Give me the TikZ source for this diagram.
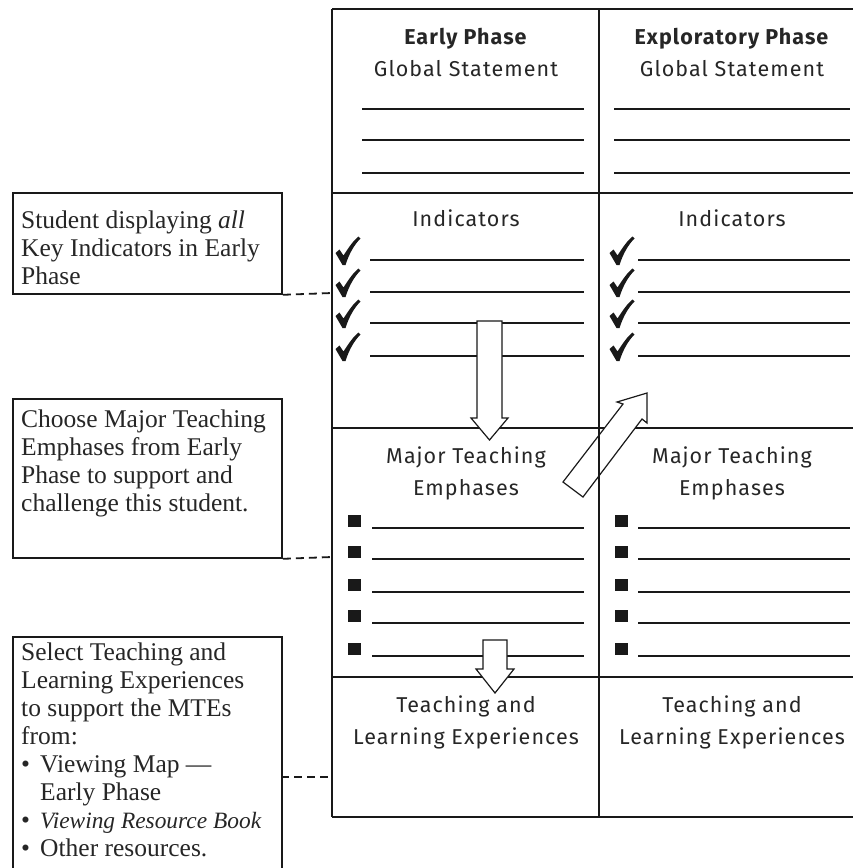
\documentclass[tikz,border=0pt]{standalone}
\usepackage{fontspec}
\setmainfont{Liberation Serif}
\newfontfamily\gridfont[LetterSpace=5]{Fira Sans}
\begin{document}
\begin{tikzpicture}[x=1pt,y=-1pt,
  rule/.style={line width=2pt, draw=black!90},
  blank/.style={line width=1.8pt, draw=black!90},
  frame/.style={draw=black!90, line width=1.8pt, inner sep=0pt, anchor=north west, minimum width=269pt},
  note/.style={font=\fontsize{25.5}{28}\selectfont, align=left, inner sep=0pt, anchor=north west, text=black!85},
  head/.style={font=\gridfont\fontsize{21.5}{32}\selectfont, align=center, inner sep=0pt, text=black!85},
  sq/.style={fill=black!90, minimum width=13pt, minimum height=12pt, inner sep=0pt},
  link/.style={line width=1.8pt, draw=black!90, dash pattern=on 8pt off 5pt},
  blockarrow/.style={draw=black!90, fill=white, line width=1.2pt, line join=miter},
  tickmark/.pic={
    \fill[black!90, line join=round]
      (-12.5,2) -- (-8.5,-1.5) -- (-4.5,4.5)
      .. controls (1,-4) and (5,-10) .. (10.5,-14.5)
      -- (12.5,-12.5)
      .. controls (6,-6) and (1,3) .. (-2.5,14)
      -- (-5.5,14) -- cycle;
  }
]
\path[use as bounding box] (0,0) rectangle (853,868);
\clip (0,0) rectangle (853,868);

% ---- grid of phases ----
\draw[rule] (332,9) -- (866,9);
\draw[rule] (332,193) -- (866,193);
\draw[rule] (332,428) -- (866,428);
\draw[rule] (332,677) -- (866,677);
\draw[rule] (332,817) -- (866,817);
\draw[rule] (332,9) -- (332,817);

% column headings
\node[head, anchor=north] (eh) at (466,28) {\textbf{Early Phase}\\Global Statement};
\node[head, anchor=north] (xh) at (732,28) {\textbf{Exploratory Phase}\\Global Statement};
\node[head, anchor=base] (ei) at (466,226) {Indicators};
\node[head, anchor=base] (xi) at (732,226) {Indicators};
\node[head, anchor=north] (em) at (466,447) {Major Teaching\\Emphases};
\node[head, anchor=north] (xm) at (732,447) {Major Teaching\\Emphases};
\node[head, anchor=north] (et) at (466,696) {Teaching and\\Learning Experiences};
\node[head, anchor=north] (xt) at (732,696) {Teaching and\\Learning Experiences};

% global statement rules
\foreach \y in {109,140,173} {
  \draw[blank] (362,\y) -- (584,\y);
  \draw[blank] (614,\y) -- (850,\y);
}
% indicator rules with ticks
\foreach \y [count=\i] in {260,292,323,356} {
  \draw[blank] (370,\y) -- (584,\y);
  \draw[blank] (638,\y) -- (850,\y);
  \pic at (348,\y-9) {tickmark};
  \pic at (622,\y-9) {tickmark};
}
% teaching emphasis rules with squares
\foreach \y [count=\i] in {528,559,592,623,656} {
  \draw[blank] (372,\y) -- (584,\y);
  \draw[blank] (638,\y) -- (850,\y);
  \node[sq] (se\i) at (354.5,\y-7) {};
  \node[sq] (sx\i) at (621.5,\y-7) {};
}

% block arrows
\draw[blockarrow] (477,321) -- (502,321) -- (502,418) -- (508,418) -- (489.5,440) -- (471,418) -- (477,418) -- cycle;
\draw[blockarrow] (483,640) -- (507,640) -- (507,669) -- (514,669) -- (495,693) -- (476,669) -- (483,669) -- cycle;
\draw[blockarrow] (563,482) -- (623,404) -- (617,402) -- (647,393) -- (647,423) -- (642,419) -- (583,497) -- cycle;

% column divider
\draw[line width=1.5pt, draw=black!90] (599,9) -- (599,817);

% ---- notes on the left ----
\node[frame, minimum height=101pt] (b1) at (12,192) {};
\node[frame, minimum height=159pt] (b2) at (12,398) {};
\node[frame, minimum height=260pt] (b3) at (12,636) {};

\node[note] (t1) at (21,211) {Student displaying \textit{all}\\Key Indicators in Early\\Phase};
\node[note] (t2) at (21,410) {Choose Major Teaching\\Emphases from Early\\Phase to support and\\challenge this student.};
\node[note] (t3) at (21,643) {Select Teaching and\\Learning Experiences\\to support the MTEs\\from:\\
\makebox[19pt][l]{\textbullet}Viewing Map —\\
\hspace*{19pt}Early Phase\\
\makebox[19pt][l]{\textbullet}{\fontsize{23.4}{28}\selectfont\textit{Viewing Resource Book}}\\
\makebox[19pt][l]{\textbullet}Other resources.};

% dashed links into the grid
\coordinate (k1) at (332,293);
\coordinate (k2) at (332,557);
\coordinate (k3) at (332,777);
\coordinate (s3) at (281,777);
\draw[link] (b1.south east) -- (k1);
\draw[link] (b2.south east) -- (k2);
\draw[link] (s3) -- (k3);
\end{tikzpicture}
\end{document}
